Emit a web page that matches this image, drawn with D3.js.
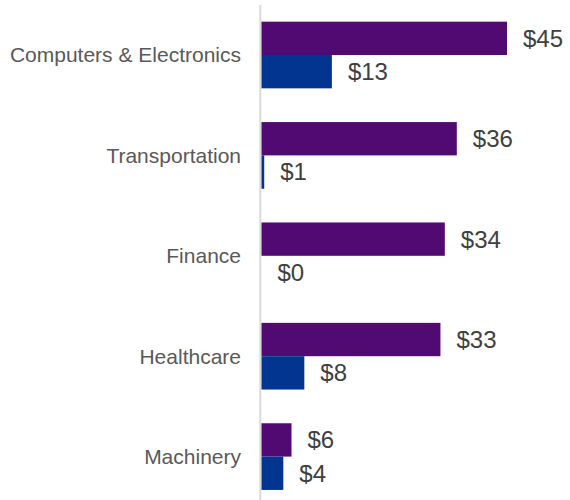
<!DOCTYPE html>
<html>
<head>
<meta charset="utf-8">
<script src="https://cdn.jsdelivr.net/npm/d3@7"></script>
<style>
  body { margin: 0; background: #fff; }
  svg { display: block; font-family: "Liberation Sans", Arial, sans-serif; }
</style>
</head>
<body>
<div id="chart"></div>
<script>
let categories = ["Computers & Electronics", "Transportation", "Finance", "Healthcare", "Machinery"]
let purpleValues = [45, 35.8, 33.6, 32.8, 5.5]
let blueValues = [12.9, 0.5, 0, 7.85, 4.0]

let width = 570, height = 500

let svg = d3.select("#chart")
    .append("svg")
    .attr("width", width)
    .attr("height", height)

let xScale = d3.scaleLinear()
    .domain([0, 45])
    .range([261.5, 507])

let yScale = d3.scaleBand()
    .domain(categories)
    .range([4.8, 506.8])
    .paddingInner(0.336)
    .paddingOuter(0.168)

let subScale = d3.scaleBand()
    .domain(["purple", "blue"])
    .range([0, yScale.bandwidth()])

let colors = { purple: "#500a72", blue: "#01358f" }

let rows = categories.map((c, i) => ({ cat: c, purple: purpleValues[i], blue: blueValues[i] }))

// axis line
svg.append("line")
    .attr("x1", 260.3).attr("x2", 260.3)
    .attr("y1", 5).attr("y2", height)
    .attr("stroke", "#d9d9d9")
    .attr("stroke-width", 2)

// category labels
svg.append("g")
    .selectAll("text")
    .data(categories)
    .enter()
    .append("text")
    .attr("x", 241)
    .attr("y", d => yScale(d) + yScale.bandwidth() / 2)
    .attr("text-anchor", "end")
    .attr("dy", "0.35em")
    .attr("fill", "#595959")
    .style("font-size", "21px")
    .text(d => d)

for (const key of ["purple", "blue"]) {
    let g = svg.append("g")

    g.selectAll("rect")
        .data(rows)
        .enter()
        .append("rect")
        .attr("x", xScale(0))
        .attr("y", d => yScale(d.cat) + subScale(key))
        .attr("width", d => xScale(d[key]) - xScale(0))
        .attr("height", subScale.bandwidth())
        .attr("fill", colors[key])

    g.selectAll("text")
        .data(rows)
        .enter()
        .append("text")
        .attr("x", d => xScale(d[key]) + 16)
        .attr("y", d => yScale(d.cat) + subScale(key) + subScale.bandwidth() / 2)
        .attr("dy", "0.35em")
        .attr("fill", "#404040")
        .style("font-size", "24px")
        .text(d => "$" + Math.round(d[key]))
}
</script>
</body>
</html>
